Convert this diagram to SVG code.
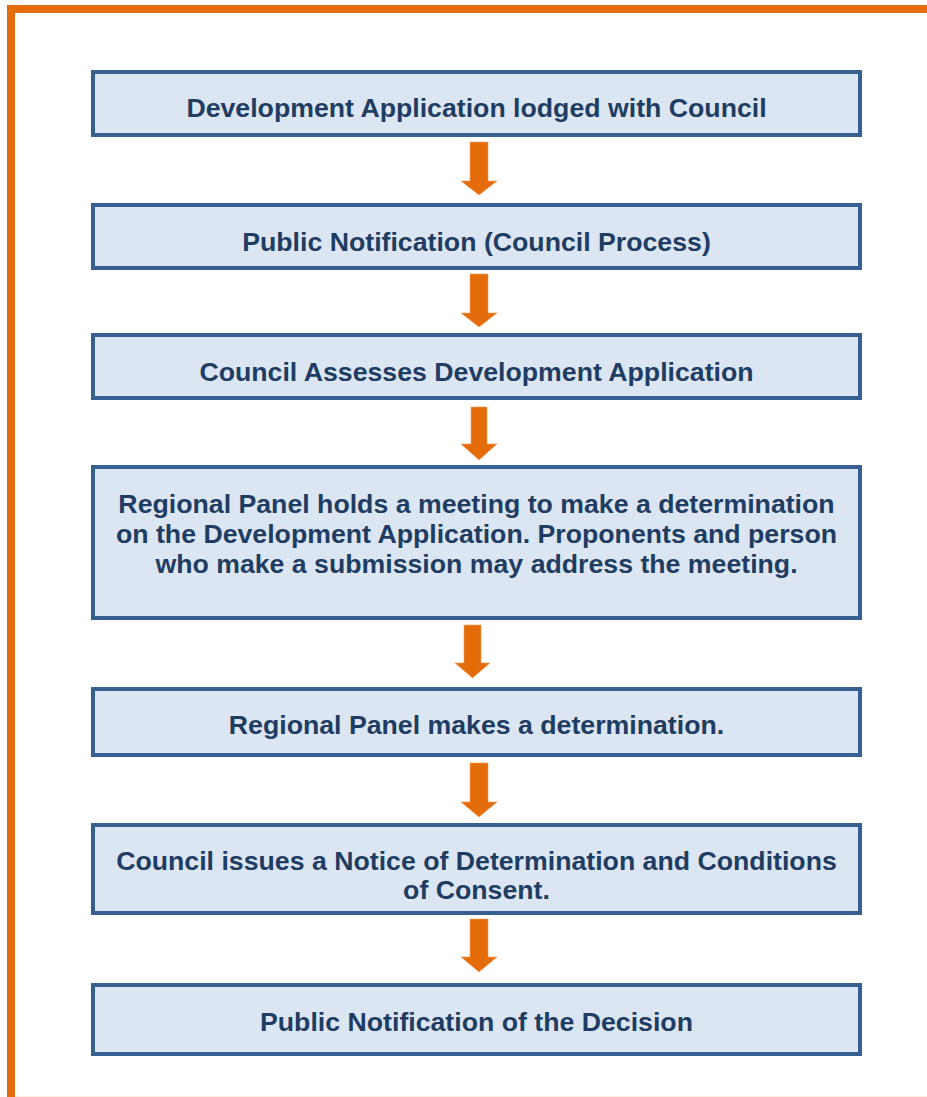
<svg xmlns="http://www.w3.org/2000/svg" width="927" height="1097" viewBox="0 0 927 1097">
<defs>
<style>
.box{fill:#DCE6F2;stroke:#376092;stroke-width:4}
.t{font-family:"Liberation Sans",Arial,sans-serif;font-weight:bold;font-size:26.7px;fill:#1F3D63;text-anchor:middle}
.arr{fill:#E46C0A;stroke:#F0A060;stroke-width:0.6}
</style>
</defs>
<rect x="0" y="0" width="927" height="1097" fill="#ffffff"/>
<g id="frame">
<rect x="7" y="5" width="920" height="8" fill="#E46C0A"/>
<rect x="7" y="5" width="8" height="1092" fill="#E46C0A"/>
<rect x="15" y="1096" width="912" height="1" fill="#FCEEE3"/>
</g>
<g id="connectors">
<polygon class="arr" points="470,142 488,142 488,181 497,181 479,195 461,181 470,181"/>
<polygon class="arr" points="470,274 488,274 488,313 497,313 479,327 461,313 470,313"/>
<polygon class="arr" points="471,407 487,407 487,444 497,444 479,460 461,444 471,444"/>
<polygon class="arr" points="464,625 481,625 481,663 490,663 472.5,678 455,663 464,663"/>
<polygon class="arr" points="470,763 488,763 488,802 497,802 479,817 461,802 470,802"/>
<polygon class="arr" points="470,919 488,919 488,957 497,957 479,972 461,957 470,957"/>
</g>
<g id="n1"><rect class="box" x="93" y="72" width="767" height="63"/><text class="t" x="476.5" y="117">Development Application lodged with Council</text></g>
<g id="n2"><rect class="box" x="93" y="205" width="767" height="63"/><text class="t" x="476.5" y="251">Public Notification (Council Process)</text></g>
<g id="n3"><rect class="box" x="93" y="335" width="767" height="63"/><text class="t" x="476.5" y="381">Council Assesses Development Application</text></g>
<g id="n4"><rect class="box" x="93" y="467" width="767" height="151"/>
<text class="t" x="476.5" y="513">Regional Panel holds a meeting to make a determination</text>
<text class="t" x="476.5" y="543">on the Development Application. Proponents and person</text>
<text class="t" x="476.5" y="573">who make a submission may address the meeting.</text></g>
<g id="n5"><rect class="box" x="93" y="689" width="767" height="66"/><text class="t" x="476.5" y="734">Regional Panel makes a determination.</text></g>
<g id="n6"><rect class="box" x="93" y="825" width="767" height="88"/>
<text class="t" x="476.5" y="870">Council issues a Notice of Determination and Conditions</text>
<text class="t" x="476.5" y="899">of Consent.</text></g>
<g id="n7"><rect class="box" x="93" y="985" width="767" height="69"/><text class="t" x="476.5" y="1031">Public Notification of the Decision</text></g>
</svg>
